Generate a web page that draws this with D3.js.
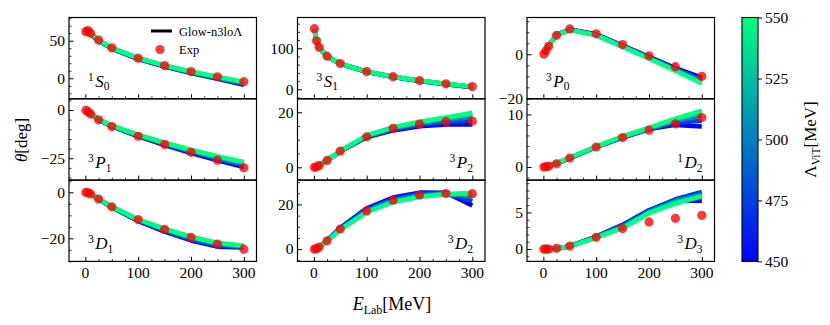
<!DOCTYPE html>
<html><head><meta charset="utf-8">
<script src="https://cdn.jsdelivr.net/npm/d3@7"></script>
<style>
body{margin:0;background:#fff}
svg{display:block}
text{font-family:"Liberation Serif","DejaVu Serif",serif;fill:#000}
</style>
</head><body>
<svg id="c" width="830" height="325"></svg>
<script>
// ---------------- data ----------------
const energies = [1, 5, 10, 25, 50, 100, 150, 200, 250, 300];
const lambdas = [450, 475, 500, 525, 550];
const xTickLabels = [0, 100, 200, 300];
const cbarTicks = [450, 475, 500, 525, 550];

const exp1S0 = [62.1, 63.6, 60.0, 50.9, 40.5, 26.8, 16.9, 8.9, 2.0, -4.5];
const band1S0 = [
  [58.5, 62.0, 58.5, 49.8, 39.5, 25.6, 15.5, 6.9, -0.8, -8.8],
  [59.5, 62.5, 59.0, 50.2, 39.8, 26.1, 16.1, 7.7, 0.2, -7.4],
  [60.3, 62.9, 59.4, 50.5, 40.1, 26.4, 16.5, 8.2, 0.9, -6.4],
  [60.9, 63.2, 59.7, 50.8, 40.3, 26.7, 16.9, 8.7, 1.5, -5.6],
  [61.5, 63.5, 60.0, 51.0, 40.5, 27.0, 17.2, 9.1, 2.1, -4.8]];

const exp3S1 = [147.7, 118.2, 102.6, 80.6, 62.8, 43.2, 30.7, 21.2, 13.4, 6.6];
const band3S1 = [
  [146.0, 117.0, 101.8, 79.8, 62.0, 42.4, 29.8, 20.2, 12.2, 5.2],
  [146.5, 117.4, 102.1, 80.1, 62.3, 42.7, 30.2, 20.6, 12.7, 5.8],
  [147.0, 117.7, 102.3, 80.3, 62.5, 42.9, 30.4, 20.9, 13.0, 6.2],
  [147.3, 117.9, 102.5, 80.5, 62.7, 43.1, 30.6, 21.1, 13.2, 6.4],
  [147.5, 118.0, 102.6, 80.6, 62.8, 43.2, 30.7, 21.2, 13.4, 6.6]];

const exp3P0 = [0.1, 1.6, 3.6, 8.6, 11.5, 9.3, 4.4, -0.7, -5.6, -10.0];
const band3P0 = [
  [0.2, 1.8, 3.9, 8.8, 11.3, 9.1, 4.0, -1.1, -6.3, -10.6],
  [0.2, 1.8, 3.9, 8.8, 11.2, 8.9, 3.8, -1.4, -6.7, -11.4],
  [0.2, 1.8, 3.9, 8.8, 11.2, 8.8, 3.6, -1.6, -7.0, -12.2],
  [0.2, 1.8, 3.9, 8.8, 11.1, 8.7, 3.5, -1.8, -7.3, -12.8],
  [0.2, 1.8, 3.9, 8.8, 11.1, 8.6, 3.4, -1.9, -7.5, -13.3]];

const exp3P1 = [-0.1, -0.9, -2.1, -5.1, -8.6, -13.6, -17.8, -21.9, -26.0, -29.9];
const band3P1 = [
  [-0.1, -0.9, -2.1, -5.0, -8.5, -13.7, -18.2, -22.3, -26.1, -29.6],
  [-0.1, -0.9, -2.1, -4.9, -8.3, -13.4, -17.7, -21.7, -25.3, -28.6],
  [-0.1, -0.9, -2.0, -4.9, -8.2, -13.1, -17.4, -21.2, -24.7, -27.9],
  [-0.1, -0.9, -2.0, -4.8, -8.1, -13.0, -17.1, -20.9, -24.3, -27.4],
  [-0.1, -0.9, -2.0, -4.8, -8.0, -12.8, -16.9, -20.6, -23.9, -26.9]];

const exp3P2 = [0.0, 0.2, 0.7, 2.5, 5.9, 11.1, 14.2, 15.7, 16.6, 16.8];
const band3P2 = [
  [0.0, 0.2, 0.7, 2.5, 5.8, 10.9, 13.4, 14.9, 15.6, 15.6],
  [0.0, 0.2, 0.7, 2.5, 5.8, 11.1, 13.8, 15.5, 16.5, 17.0],
  [0.0, 0.2, 0.7, 2.6, 5.9, 11.3, 14.2, 16.0, 17.3, 18.3],
  [0.0, 0.2, 0.7, 2.6, 5.9, 11.5, 14.4, 16.4, 17.8, 19.2],
  [0.0, 0.2, 0.7, 2.6, 6.0, 11.6, 14.6, 16.6, 18.1, 19.8]];

const exp1D2 = [0.0, 0.05, 0.15, 0.6, 1.7, 3.8, 5.6, 7.0, 8.2, 9.4];
const band1D2 = [
  [0.0, 0.05, 0.15, 0.7, 1.7, 3.8, 5.6, 7.2, 8.0, 7.7],
  [0.0, 0.05, 0.15, 0.7, 1.7, 3.8, 5.6, 7.2, 8.4, 8.8],
  [0.0, 0.05, 0.15, 0.7, 1.7, 3.8, 5.7, 7.3, 8.8, 9.8],
  [0.0, 0.05, 0.15, 0.7, 1.75, 3.85, 5.75, 7.4, 9.0, 10.3],
  [0.0, 0.05, 0.15, 0.7, 1.8, 3.9, 5.8, 7.5, 9.2, 10.7]];

const exp3D1 = [0.0, -0.2, -0.7, -2.9, -6.3, -11.8, -16.1, -19.6, -22.5, -24.7];
const band3D1 = [
  [0.0, -0.2, -0.7, -2.9, -6.5, -12.5, -17.1, -20.9, -23.6, -24.0],
  [0.0, -0.2, -0.7, -2.9, -6.4, -12.3, -16.7, -20.4, -23.1, -23.8],
  [0.0, -0.2, -0.7, -2.8, -6.3, -12.0, -16.2, -19.8, -22.4, -23.5],
  [0.0, -0.2, -0.7, -2.8, -6.3, -11.9, -16.0, -19.5, -22.1, -23.3],
  [0.0, -0.2, -0.7, -2.8, -6.2, -11.8, -15.8, -19.3, -21.9, -23.2]];

const exp3D2 = [0.0, 0.2, 0.9, 3.7, 9.0, 17.1, 21.9, 24.2, 24.9, 24.8];
const band3D2 = [
  [0.0, 0.2, 0.9, 3.9, 9.5, 18.3, 23.1, 25.3, 25.2, 19.5],
  [0.0, 0.2, 0.9, 3.8, 9.3, 17.8, 22.5, 24.8, 25.1, 21.5],
  [0.0, 0.2, 0.9, 3.7, 9.0, 17.1, 21.8, 24.1, 24.9, 23.5],
  [0.0, 0.2, 0.8, 3.6, 8.8, 16.8, 21.3, 23.6, 24.7, 24.6],
  [0.0, 0.2, 0.8, 3.6, 8.7, 16.5, 21.0, 23.4, 24.6, 25.2]];

const exp3D3 = [0.0, 0.0, 0.0, 0.1, 0.4, 1.6, 2.8, 3.7, 4.2, 4.6];
const band3D3 = [
  [0.0, 0.0, 0.0, 0.05, 0.4, 1.7, 3.3, 5.3, 6.6, 6.6],
  [0.0, 0.0, 0.0, 0.05, 0.4, 1.7, 3.3, 5.3, 6.8, 7.8],
  [0.0, 0.0, 0.0, 0.05, 0.4, 1.65, 3.1, 5.1, 6.6, 7.5],
  [0.0, 0.0, 0.0, 0.05, 0.35, 1.6, 2.95, 5.0, 6.4, 7.3],
  [0.0, 0.0, 0.0, 0.05, 0.35, 1.55, 2.85, 4.9, 6.2, 7.2]];

// channel labels: [spin multiplicity, letter, J]
const labelParts = [["1","S","0"],["3","S","1"],["3","P","0"],["3","P","1"],["3","P","2"],["1","D","2"],["3","D","1"],["3","D","2"],["3","D","3"]];
const yTickLabels = [[0,50],[0,100],[-20,0],[-25,0],[0,20],[0,10],[-20,0],[0,20],[0,5]];
const yMinorSteps = [10,20,5,5,5,2,5,5,1];
const yDomains = [[-27.3,80.9],[-23.2,175],[-20.2,16.7],[-36.3,5.8],[-4.65,24.9],[-2.49,12.96],[-30.0,5.3],[-5.5,30.9],[-1.69,9.42]];
const labelRight = [false,false,false,false,true,true,false,true,true];

const expSets = [exp1S0, exp3S1, exp3P0, exp3P1, exp3P2, exp1D2, exp3D1, exp3D2, exp3D3];
const bandSets = [band1S0, band3S1, band3P0, band3P1, band3P2, band1D2, band3D1, band3D2, band3D3];

// ---------------- layout ----------------
const svg = d3.select("#c");
const colX = [69, 297.5, 527];
const panelW = 187.5;
const rowY = [17.5, 98.8, 180.1];
const panelH = 81.3;
const xDomain = [-31, 324];

const winter = t => d3.rgb(0, Math.round(255 * t), Math.round(255 - 127.5 * t)).toString();
const lamColor = d3.scaleLinear().domain([450, 550]).range([0, 1]);

const defs = svg.append("defs");

function panel(i) {
  const col = i % 3, row = Math.floor(i / 3);
  const x0 = colX[col], y0 = rowY[row];
  const x = d3.scaleLinear().domain(xDomain).range([x0, x0 + panelW]);
  const y = d3.scaleLinear().domain(yDomains[i]).range([y0 + panelH, y0]);
  const g = svg.append("g");

  defs.append("clipPath").attr("id", "clip" + i)
    .append("rect").attr("x", x0).attr("y", y0).attr("width", panelW).attr("height", panelH);

  const plot = g.append("g").attr("clip-path", `url(#clip${i})`);
  const line = d3.line().x((d, k) => x(energies[k])).y(d => y(d));
  bandSets[i].forEach((curve, j) => {
    plot.append("path").attr("d", line(curve))
      .attr("fill", "none").attr("stroke", winter(lamColor(lambdas[j])))
      .attr("stroke-width", 4.5).attr("stroke-linejoin", "round").attr("stroke-linecap", "butt");
  });
  plot.selectAll("circle.exp").data(expSets[i]).enter().append("circle")
    .attr("cx", (d, k) => x(energies[k])).attr("cy", d => y(d)).attr("r", 4.6)
    .attr("fill", "#ff0000").attr("fill-opacity", 0.78);

  // axes: inward ticks
  const yMajor = yTickLabels[i];
  const ms = yMinorSteps[i];
  const [ylo, yhi] = yDomains[i];
  const yMinor = d3.range(Math.ceil(ylo / ms) * ms, yhi + 1e-9, ms).filter(v => !yMajor.some(m => Math.abs(m - v) < 1e-9));
  g.append("g").attr("transform", `translate(${x0},0)`)
    .call(d3.axisRight(y).tickValues(yMajor).tickSize(4.5).tickFormat(""))
    .call(a => a.select(".domain").remove())
    .selectAll("line").attr("stroke", "#000").attr("stroke-width", 1);
  g.append("g").attr("transform", `translate(${x0},0)`)
    .call(d3.axisRight(y).tickValues(yMinor).tickSize(2.5).tickFormat(""))
    .call(a => a.select(".domain").remove())
    .selectAll("line").attr("stroke", "#000").attr("stroke-width", 0.8);
  g.selectAll("text.yl").data(yMajor).enter().append("text")
    .attr("x", x0 - 4).attr("y", d => y(d)).attr("dy", "0.34em")
    .attr("text-anchor", "end").attr("font-size", 15.5)
    .text(d => d < 0 ? "\u2212" + Math.abs(d) : d);

  const xMinor = d3.range(25, 325, 25).filter(v => v % 100 !== 0);
  g.append("g").attr("transform", `translate(0,${y0 + panelH})`)
    .call(d3.axisTop(x).tickValues(xTickLabels).tickSize(4.5).tickFormat(""))
    .call(a => a.select(".domain").remove())
    .selectAll("line").attr("stroke", "#000").attr("stroke-width", 1);
  g.append("g").attr("transform", `translate(0,${y0 + panelH})`)
    .call(d3.axisTop(x).tickValues(xMinor).tickSize(2.5).tickFormat(""))
    .call(a => a.select(".domain").remove())
    .selectAll("line").attr("stroke", "#000").attr("stroke-width", 0.8);
  if (row === 2) {
    g.selectAll("text.xl").data(xTickLabels).enter().append("text")
      .attr("x", d => x(d)).attr("y", y0 + panelH + 16.5)
      .attr("text-anchor", "middle").attr("font-size", 15.5).text(d => d);
  }

  g.append("rect").attr("x", x0).attr("y", y0).attr("width", panelW).attr("height", panelH)
    .attr("fill", "none").attr("stroke", "#000").attr("stroke-width", 1.2);

  // channel label
  const [sup, L, sub] = labelParts[i];
  const t = g.append("text").attr("font-size", 17)
    .attr("y", y0 + panelH - 12)
    .attr("x", labelRight[i] ? x0 + panelW - 12 : x0 + 19)
    .attr("text-anchor", labelRight[i] ? "end" : "start");
  t.append("tspan").attr("font-size", 11.5).attr("dy", -6).text(sup);
  t.append("tspan").attr("font-style", "italic").attr("dy", 6).attr("dx", 1.5).text(L);
  t.append("tspan").attr("font-size", 11.5).attr("dy", 3.5).text(sub);
}

d3.range(9).forEach(panel);

// legend in first panel
const lg = svg.append("g");
lg.append("line").attr("x1", 151).attr("x2", 172).attr("y1", 31).attr("y2", 31)
  .attr("stroke", "#000").attr("stroke-width", 3);
lg.append("text").attr("x", 179).attr("y", 35.5).attr("font-size", 12.5).text("Glow-n3lo\u039B");
lg.append("circle").attr("cx", 160).attr("cy", 49.5).attr("r", 4.6).attr("fill", "#ff0000").attr("fill-opacity", 0.78);
lg.append("text").attr("x", 179).attr("y", 54).attr("font-size", 12.5).text("Exp");

// axis labels
svg.append("text").attr("transform", "translate(27,140) rotate(-90)")
  .attr("text-anchor", "middle").attr("font-size", 17)
  .call(t => {
    t.append("tspan").attr("font-style", "italic").text("\u03B8");
    t.append("tspan").text("[deg]");
  });
svg.append("text").attr("x", 392).attr("y", 310).attr("text-anchor", "middle").attr("font-size", 18)
  .call(t => {
    t.append("tspan").attr("font-style", "italic").text("E");
    t.append("tspan").attr("font-size", 12).attr("dy", 3.5).text("Lab");
    t.append("tspan").attr("dy", -3.5).text("[MeV]");
  });

// colorbar
const cbX = 742, cbW = 16, cbTop = 17.5, cbBot = 261.4;
const grad = defs.append("linearGradient").attr("id", "cbg").attr("x1", 0).attr("y1", 1).attr("x2", 0).attr("y2", 0);
d3.range(0, 1.0001, 0.1).forEach(t => grad.append("stop").attr("offset", t).attr("stop-color", winter(t)));
svg.append("rect").attr("x", cbX).attr("y", cbTop).attr("width", cbW).attr("height", cbBot - cbTop)
  .attr("fill", "url(#cbg)").attr("stroke", "#000").attr("stroke-width", 1.1);
const cy = d3.scaleLinear().domain([450, 550]).range([cbBot, cbTop]);
svg.append("g").attr("transform", `translate(${cbX + cbW},0)`)
  .call(d3.axisRight(cy).tickValues(cbarTicks).tickSize(4).tickFormat(""))
  .call(a => a.select(".domain").remove())
  .selectAll("line").attr("stroke", "#000").attr("stroke-width", 1);
svg.selectAll("text.cb").data(cbarTicks).enter().append("text")
  .attr("x", cbX + cbW + 7).attr("y", d => cy(d)).attr("dy", "0.34em")
  .attr("font-size", 15.5).text(d => d);
svg.append("text").attr("transform", `translate(816,${(cbTop + cbBot) / 2}) rotate(-90)`)
  .attr("text-anchor", "middle").attr("font-size", 17)
  .call(t => {
    t.append("tspan").text("\u039B");
    t.append("tspan").attr("font-size", 11.5).attr("dy", 3.5).text("ViT");
    t.append("tspan").attr("dy", -3.5).text("[MeV]");
  });
</script>
</body></html>
